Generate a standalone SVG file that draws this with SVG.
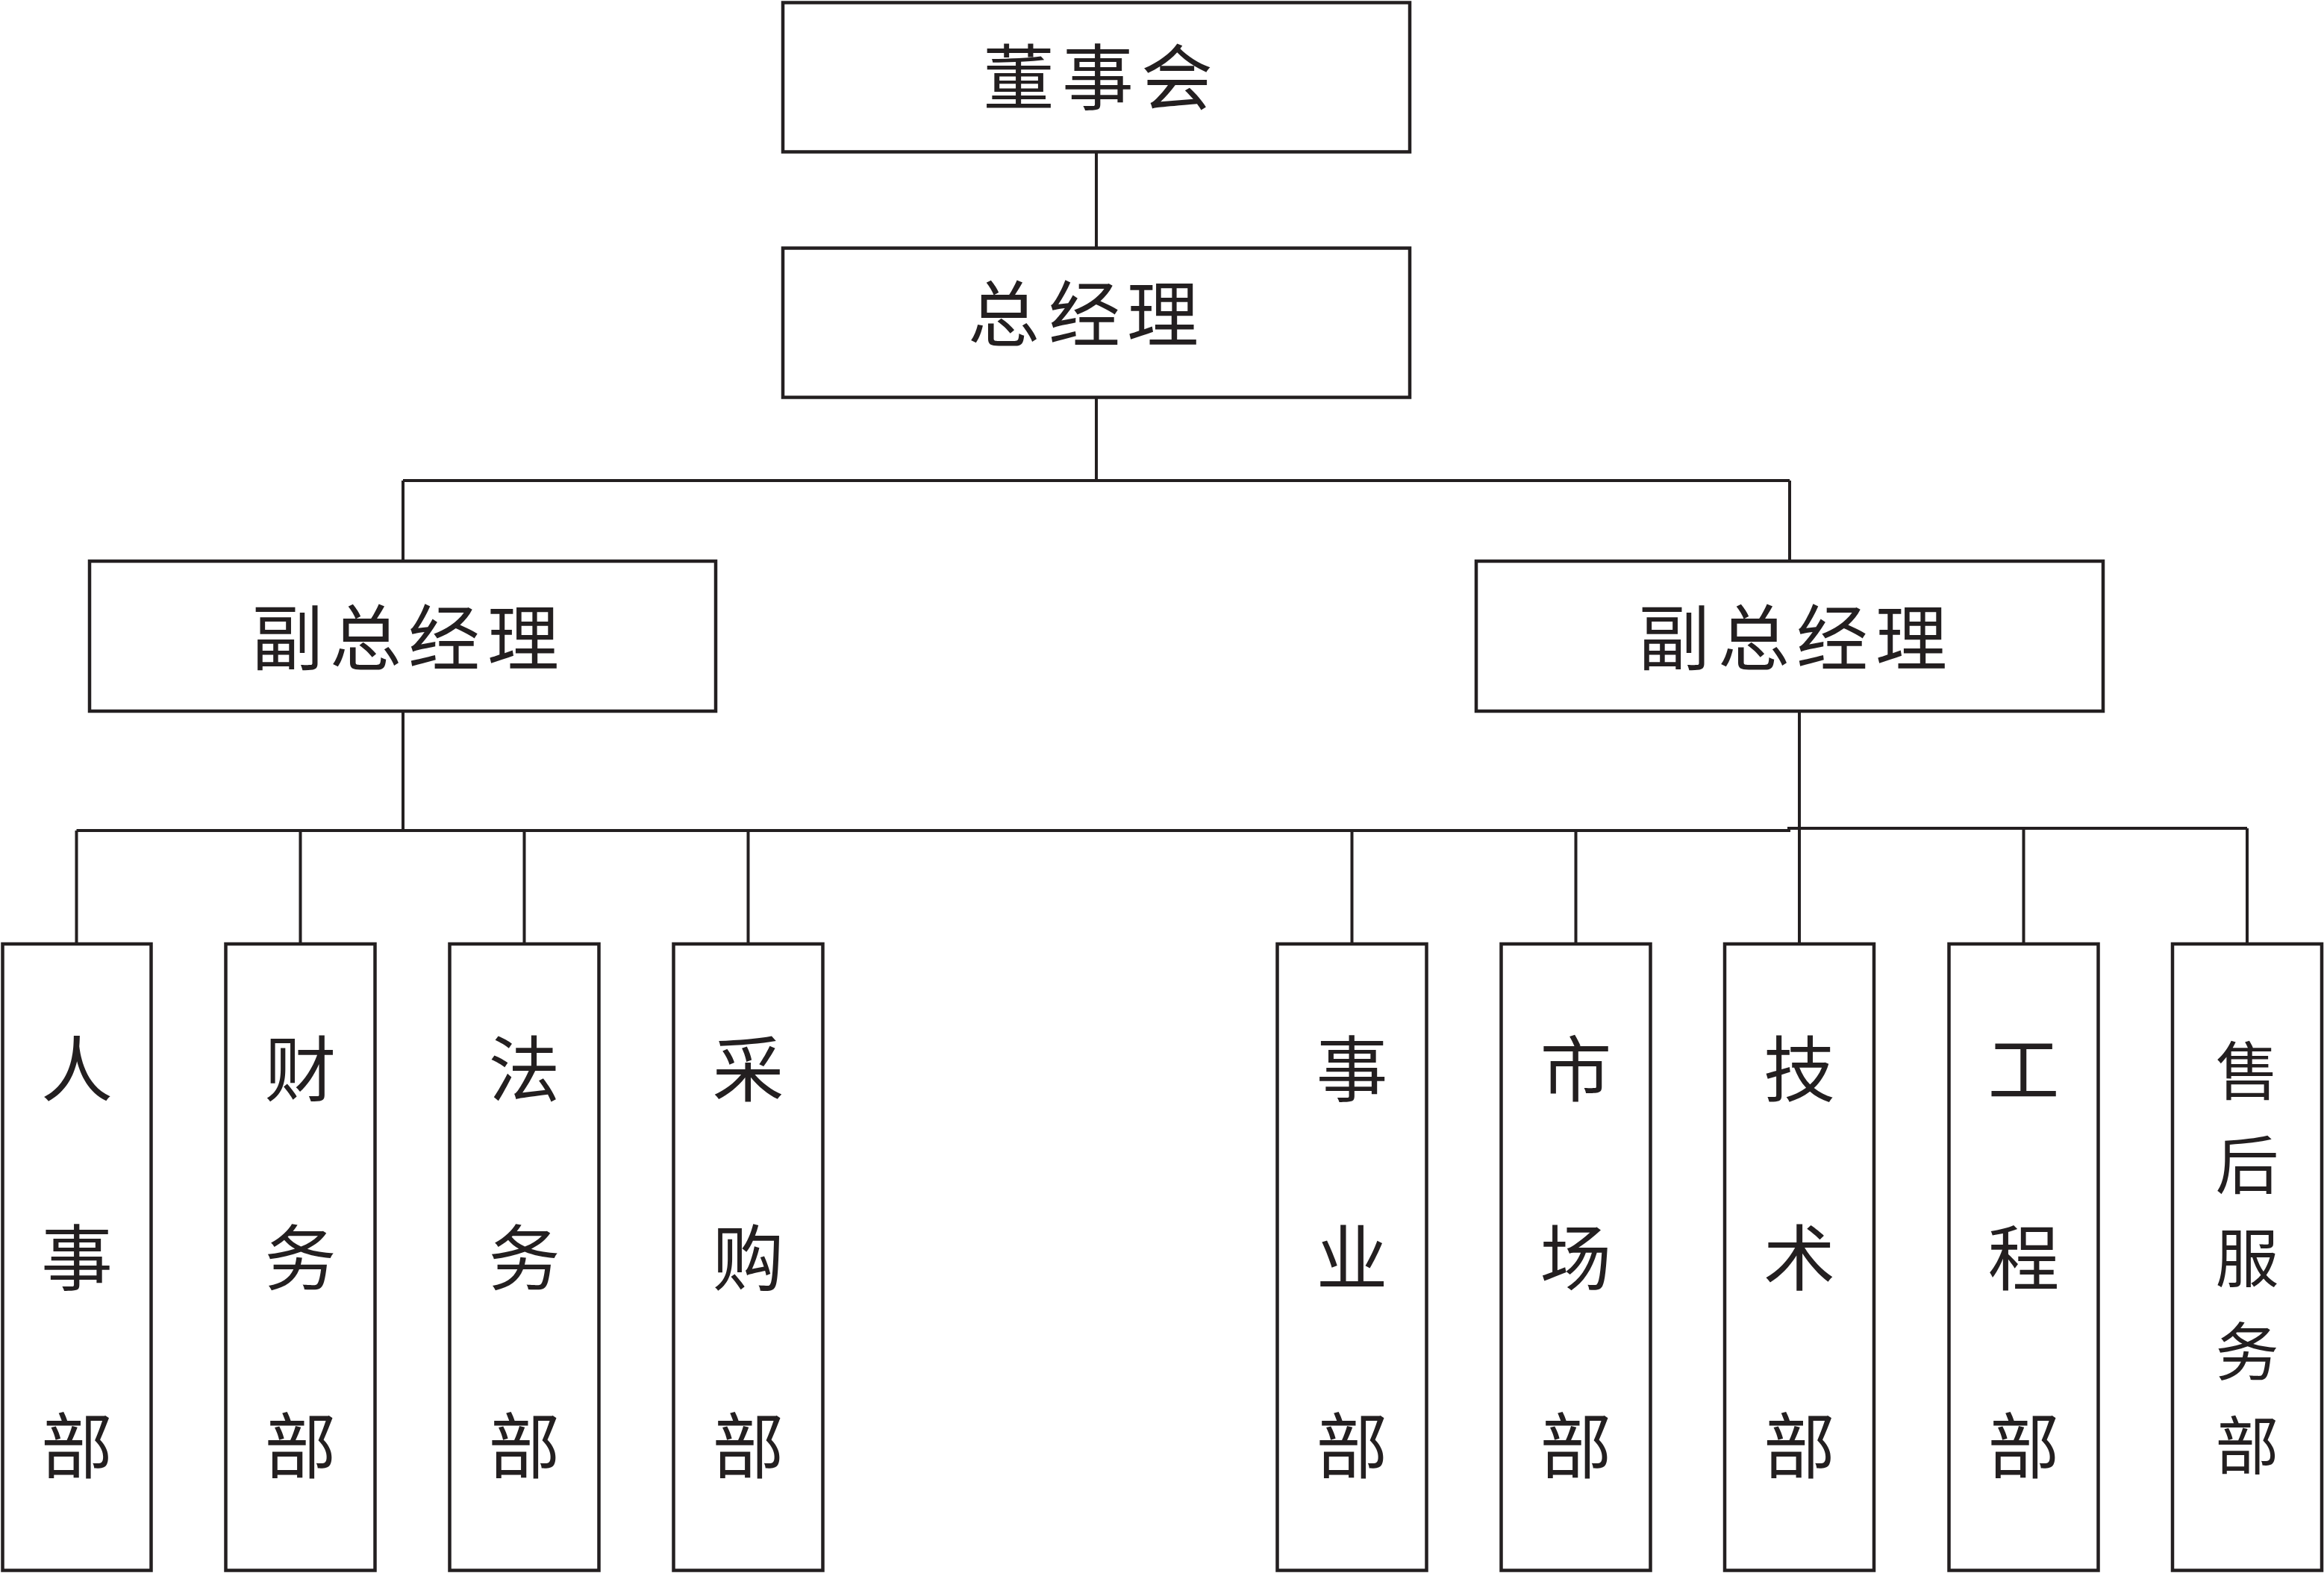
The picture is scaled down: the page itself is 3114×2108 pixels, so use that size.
<svg xmlns="http://www.w3.org/2000/svg" width="3114" height="2108" viewBox="0 0 3114 2108">
<style>
.box{fill:#ffffff;stroke:#231f20;stroke-width:4.5}
.conn{fill:none;stroke:#231f20;stroke-width:4}
.lbl{font-family:"Noto Sans CJK SC","Noto Sans CJK TC",sans-serif;font-size:96px;font-weight:400;fill:#231f20;text-anchor:middle}
.lbl5{font-size:85px}
</style>
<rect x="0" y="0" width="3114" height="2108" fill="#ffffff"/>
<g id="connectors">
<path class="conn" d="M1469,203.5 V332.5"/>
<path class="conn" d="M1469,532.5 V644"/>
<path class="conn" d="M540,644 H2398"/>
<path class="conn" d="M540,644 V752"/>
<path class="conn" d="M2398,644 V752"/>
<path class="conn" d="M540,952 V1113"/>
<path class="conn" d="M102.5,1113 H2397 V1110 H3011"/>
<path class="conn" d="M102.5,1113 V1265"/>
<path class="conn" d="M402.5,1113 V1265"/>
<path class="conn" d="M702.5,1113 V1265"/>
<path class="conn" d="M1002.5,1113 V1265"/>
<path class="conn" d="M1811.5,1113 V1265"/>
<path class="conn" d="M2111.5,1113 V1265"/>
<path class="conn" d="M2411,952 V1265"/>
<path class="conn" d="M2711.5,1110 V1265"/>
<path class="conn" d="M3011,1110 V1265"/>
</g>
<g id="board">
<rect class="box" x="1049" y="3.5" width="840" height="200"/>
<text class="lbl"><tspan x="1365" y="139">董</tspan><tspan x="1471" y="139">事</tspan><tspan x="1577" y="139">会</tspan></text>
</g>
<g id="gm">
<rect class="box" x="1049" y="332.5" width="840" height="200"/>
<text class="lbl"><tspan x="1345" y="456">总</tspan><tspan x="1453" y="456">经</tspan><tspan x="1558" y="456">理</tspan></text>
</g>
<g id="vp-left">
<rect class="box" x="120" y="752" width="839" height="201"/>
<text class="lbl"><tspan x="385" y="890">副</tspan><tspan x="490" y="890">总</tspan><tspan x="595" y="890">经</tspan><tspan x="701" y="890">理</tspan></text>
</g>
<g id="vp-right">
<rect class="box" x="1978" y="752" width="840" height="201"/>
<text class="lbl"><tspan x="2243" y="890">副</tspan><tspan x="2350" y="890">总</tspan><tspan x="2455" y="890">经</tspan><tspan x="2561" y="890">理</tspan></text>
</g>
<g id="dept-hr">
<rect class="box" x="3.5" y="1265" width="199" height="839.5"/>
<text class="lbl"><tspan x="103" y="1468">人</tspan><tspan x="103" y="1721">事</tspan><tspan x="103" y="1973">部</tspan></text>
</g>
<g id="dept-finance">
<rect class="box" x="302.5" y="1265" width="200" height="839.5"/>
<text class="lbl"><tspan x="402.5" y="1468">财</tspan><tspan x="402.5" y="1721">务</tspan><tspan x="402.5" y="1973">部</tspan></text>
</g>
<g id="dept-legal">
<rect class="box" x="602.5" y="1265" width="200" height="839.5"/>
<text class="lbl"><tspan x="702.5" y="1468">法</tspan><tspan x="702.5" y="1721">务</tspan><tspan x="702.5" y="1973">部</tspan></text>
</g>
<g id="dept-purchase">
<rect class="box" x="902.5" y="1265" width="200" height="839.5"/>
<text class="lbl"><tspan x="1002.5" y="1468">采</tspan><tspan x="1002.5" y="1721">购</tspan><tspan x="1002.5" y="1973">部</tspan></text>
</g>
<g id="dept-business">
<rect class="box" x="1711.5" y="1265" width="200" height="839.5"/>
<text class="lbl"><tspan x="1811.5" y="1468">事</tspan><tspan x="1811.5" y="1721">业</tspan><tspan x="1811.5" y="1973">部</tspan></text>
</g>
<g id="dept-market">
<rect class="box" x="2011.5" y="1265" width="200" height="839.5"/>
<text class="lbl"><tspan x="2111.5" y="1468">市</tspan><tspan x="2111.5" y="1721">场</tspan><tspan x="2111.5" y="1973">部</tspan></text>
</g>
<g id="dept-tech">
<rect class="box" x="2311" y="1265" width="200" height="839.5"/>
<text class="lbl"><tspan x="2411" y="1468">技</tspan><tspan x="2411" y="1721">术</tspan><tspan x="2411" y="1973">部</tspan></text>
</g>
<g id="dept-engineering">
<rect class="box" x="2611.5" y="1265" width="200" height="839.5"/>
<text class="lbl"><tspan x="2711.5" y="1468">工</tspan><tspan x="2711.5" y="1721">程</tspan><tspan x="2711.5" y="1973">部</tspan></text>
</g>
<g id="dept-aftersales">
<rect class="box" x="2911" y="1265" width="200" height="839.5"/>
<text class="lbl lbl5"><tspan x="3011" y="1467">售</tspan><tspan x="3011" y="1593">后</tspan><tspan x="3011" y="1718">服</tspan><tspan x="3011" y="1843">务</tspan><tspan x="3011" y="1969">部</tspan></text>
</g>
</svg>
